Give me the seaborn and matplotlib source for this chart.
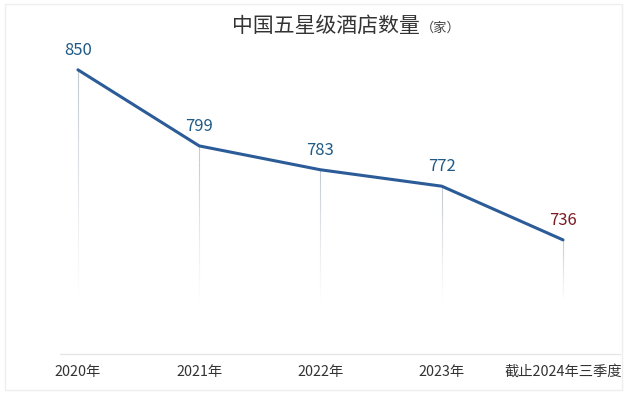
import matplotlib
matplotlib.use("Agg")
import matplotlib.pyplot as plt
import matplotlib.patches as mpatches
import seaborn as sns
import numpy as np
import pandas as pd

# data
periods = ["2020年", "2021年", "2022年", "2023年", "截止2024年三季度"]
hotels = [850, 799, 783, 772, 736]
label_colors = ["#1f5a87", "#1f5a87", "#1f5a87", "#1f5a87", "#7a1c24"]

sns.set_theme(style="white")
plt.rcParams["font.family"] = ["Noto Sans CJK SC", "DejaVu Sans"]

df = pd.DataFrame({"period": periods, "count": hotels})
df["pos"] = np.arange(len(df))

fig = plt.figure(figsize=(6.4, 3.94), dpi=100)
ax = fig.add_axes([60 / 640, 1 - 354 / 394, 560 / 640, 314 / 394])

# faded drop lines from each point
fade_bottom = 694
n_steps = 30
for i, row in df.iterrows():
    edges = np.linspace(row["count"], fade_bottom, n_steps + 1)
    for k in range(n_steps):
        ax.vlines(row["pos"], edges[k + 1], edges[k], color="#a7b0ba",
                  lw=0.8, alpha=0.7 * (1 - k / n_steps) ** 1.2, zorder=1)

sns.lineplot(data=df, x="pos", y="count", ax=ax, color="#2b5c98", lw=2.2,
             zorder=3)

for i, row in df.iterrows():
    ax.annotate(f"{row['count']}", (row["pos"], row["count"]),
                xytext=(0, 8), textcoords="offset points", ha="center",
                va="bottom", fontsize=12, fontweight="medium",
                color=label_colors[i])

ax.set_xlim(-0.148, 4.47)
ax.set_ylim(659.5, 870)
ax.set_xticks(df["pos"])
ax.set_xticklabels(df["period"], fontsize=10.3, color="#333333")
ax.tick_params(axis="x", length=0, pad=8)
ax.set_yticks([])
ax.set_xlabel("")
ax.set_ylabel("")
for side in ["top", "left", "right"]:
    ax.spines[side].set_visible(False)
ax.spines["bottom"].set_color("#e6e6e6")
ax.spines["bottom"].set_linewidth(1)

fig.text(420 / 640, 1 - 26 / 394, "中国五星级酒店数量", ha="right", va="center",
         fontsize=15, color="#333333")
fig.text(421 / 640, 1 - 28 / 394, "（家）", ha="left", va="center",
         fontsize=9.5, color="#444444")

# faint frame of the source image
fig.patches.append(mpatches.Rectangle((5 / 640, 4 / 394), 617 / 640, 386 / 394,
                                      transform=fig.transFigure, fill=False,
                                      edgecolor="#eeeeee", lw=1))

fig.savefig("out.png", dpi=100)
